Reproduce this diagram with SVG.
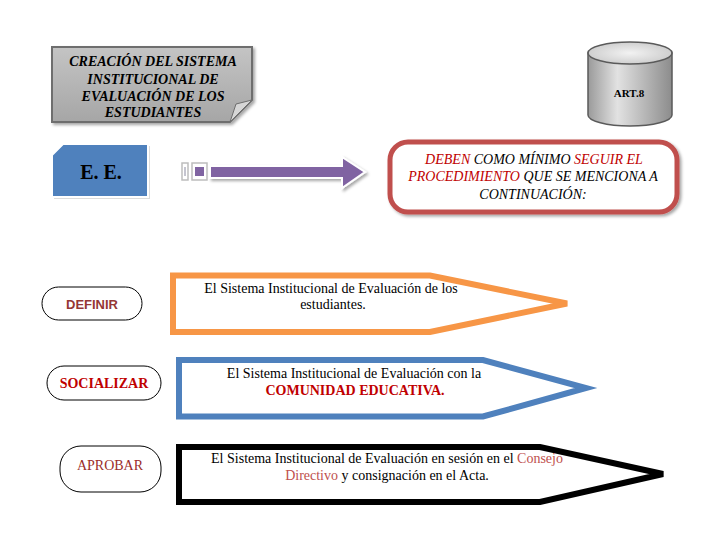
<svg xmlns="http://www.w3.org/2000/svg" width="720" height="540" viewBox="0 0 720 540">
<style>
.serif{font-family:"Liberation Serif","Times New Roman",serif;}
.sans{font-family:"Liberation Sans",Arial,sans-serif;}
.t13{font-size:13px;}
.t14{font-size:14px;}
.red{fill:#C00000;}
.mred{fill:#C0504D;}
.pill{fill:#fff;stroke:#000;stroke-width:1;}
.chev{fill:#fff;stroke-width:6;stroke-linejoin:miter;}
</style>
<defs>
<linearGradient id="gTitle" x1="0" y1="0" x2="0" y2="1">
<stop offset="0" stop-color="#c4c4c4"/>
<stop offset="1" stop-color="#a6a6a6"/>
</linearGradient>
<linearGradient id="gCyl" x1="0" y1="0" x2="1" y2="0">
<stop offset="0" stop-color="#9a9a9a"/>
<stop offset="0.35" stop-color="#e2e2e2"/>
<stop offset="1" stop-color="#8c8c8c"/>
</linearGradient>
<radialGradient id="gTop" cx="0.5" cy="0.5" r="0.6">
<stop offset="0" stop-color="#f2f2f2"/>
<stop offset="1" stop-color="#c8c8c8"/>
</radialGradient>
<filter id="sh" x="-10%" y="-10%" width="130%" height="140%">
<feDropShadow dx="2" dy="2" stdDeviation="1.5" flood-color="#000" flood-opacity="0.35"/>
</filter>
</defs>

<g id="titulo">
<path d="M52,47 H252 V100 L230,122 H52 Z" fill="url(#gTitle)" stroke="#6e6e6e" stroke-width="2" filter="url(#sh)"/>
<path d="M252,100 L230,122 L236,104 Z" fill="#d6d6d6" stroke="#6e6e6e" stroke-width="1"/>
<g class="serif t14" font-weight="bold" font-style="italic" text-anchor="middle" fill="#000">
<text x="153" y="66">CREACIÓN DEL SISTEMA</text>
<text x="153" y="84">INSTITUCIONAL DE</text>
<text x="153" y="101">EVALUACIÓN DE LOS</text>
<text x="153" y="117">ESTUDIANTES</text>
</g>
</g>

<g id="art8">
<path d="M588,53 V115 A42,11 0 0 0 672,115 V53 Z" fill="url(#gCyl)" stroke="#5a5a5a" stroke-width="1.5"/>
<ellipse cx="630" cy="53" rx="42" ry="11" fill="url(#gTop)" stroke="#5a5a5a" stroke-width="1.5"/>
<text x="629" y="97" class="serif" font-size="11" font-weight="bold" text-anchor="middle">ART.8</text>
</g>

<g id="ee">
<path d="M54,157 L65,146 H150 V199 H54 Z" fill="#dcdcdc"/>
<path d="M52,155 L63,144 H148 V197 H52 Z" fill="#4F81BD" stroke="#fff" stroke-width="2"/>
<text x="101" y="179" class="serif" font-size="20" font-weight="bold" text-anchor="middle">E. E.</text>
</g>

<g id="flecha">
<rect x="182" y="163" width="6" height="17" fill="#fff" stroke="#bdbdbd" stroke-width="1.5"/>
<line x1="185" y1="167" x2="185" y2="176" stroke="#8a8aa0" stroke-width="1"/>
<rect x="192" y="163" width="15" height="17" fill="#fff" stroke="#bdbdbd" stroke-width="1.5"/>
<rect x="195" y="167" width="9" height="9" fill="#8064A2"/>
<path d="M210,166 H342 V157 L365,172 L342,188 V178 H210 Z" fill="#8064A2" stroke="#fff" stroke-width="2" filter="url(#sh)"/>
</g>

<g id="deben">
<rect x="390" y="142" width="287" height="70" rx="18" fill="#fff" stroke="#C0504D" stroke-width="5" filter="url(#sh)"/>
<g class="serif t14" font-style="italic" text-anchor="middle">
<text x="534" y="164"><tspan class="red">DEBEN</tspan> COMO MÍNIMO <tspan class="red">SEGUIR EL</tspan></text>
<text x="533" y="181"><tspan class="red">PROCEDIMIENTO</tspan> QUE SE MENCIONA A</text>
<text x="533" y="199">CONTINUACIÓN:</text>
</g>
</g>

<g id="definir">
<rect x="42" y="287" width="100" height="33" rx="16.5" class="pill"/>
<text x="92" y="309" class="sans t13" font-weight="bold" fill="#953735" text-anchor="middle">DEFINIR</text>
</g>

<g id="socializar">
<rect x="47" y="366" width="114" height="34" rx="17" class="pill"/>
<text x="104" y="388" class="serif" font-size="14" font-weight="bold" fill="#C00000" text-anchor="middle">SOCIALIZAR</text>
</g>

<g id="aprobar">
<rect x="60" y="446" width="101" height="46" rx="21" class="pill"/>
<text x="110" y="470" class="serif t14" fill="#9B2D2A" text-anchor="middle">APROBAR</text>
</g>

<g id="paso-definir">
<path d="M173,275.5 H430 L567,303.5 L430,332 H173 Z" class="chev" stroke="#F79646"/>
<g class="serif t14" text-anchor="middle">
<text x="331" y="293">El Sistema Institucional de Evaluación de los</text>
<text x="333" y="309">estudiantes.</text>
</g>
</g>

<g id="paso-socializar">
<path d="M179,360 H483 L586,388 L483,416.5 H179 Z" class="chev" stroke="#4F81BD"/>
<g class="serif t14" text-anchor="middle">
<text x="354" y="378">El Sistema Institucional de Evaluación con la</text>
<text x="355" y="395" class="red" font-weight="bold">COMUNIDAD EDUCATIVA.</text>
</g>
</g>

<g id="paso-aprobar">
<path d="M179,447 H540 L663,474 L540,502 H179 Z" class="chev" stroke="#000"/>
<g class="serif t14" text-anchor="middle">
<text x="387" y="463">El Sistema Institucional de Evaluación en sesión en el <tspan class="mred">Consejo</tspan></text>
<text x="387" y="480"><tspan class="mred">Directivo</tspan> y consignación en el Acta.</text>
</g>
</g>
</svg>
